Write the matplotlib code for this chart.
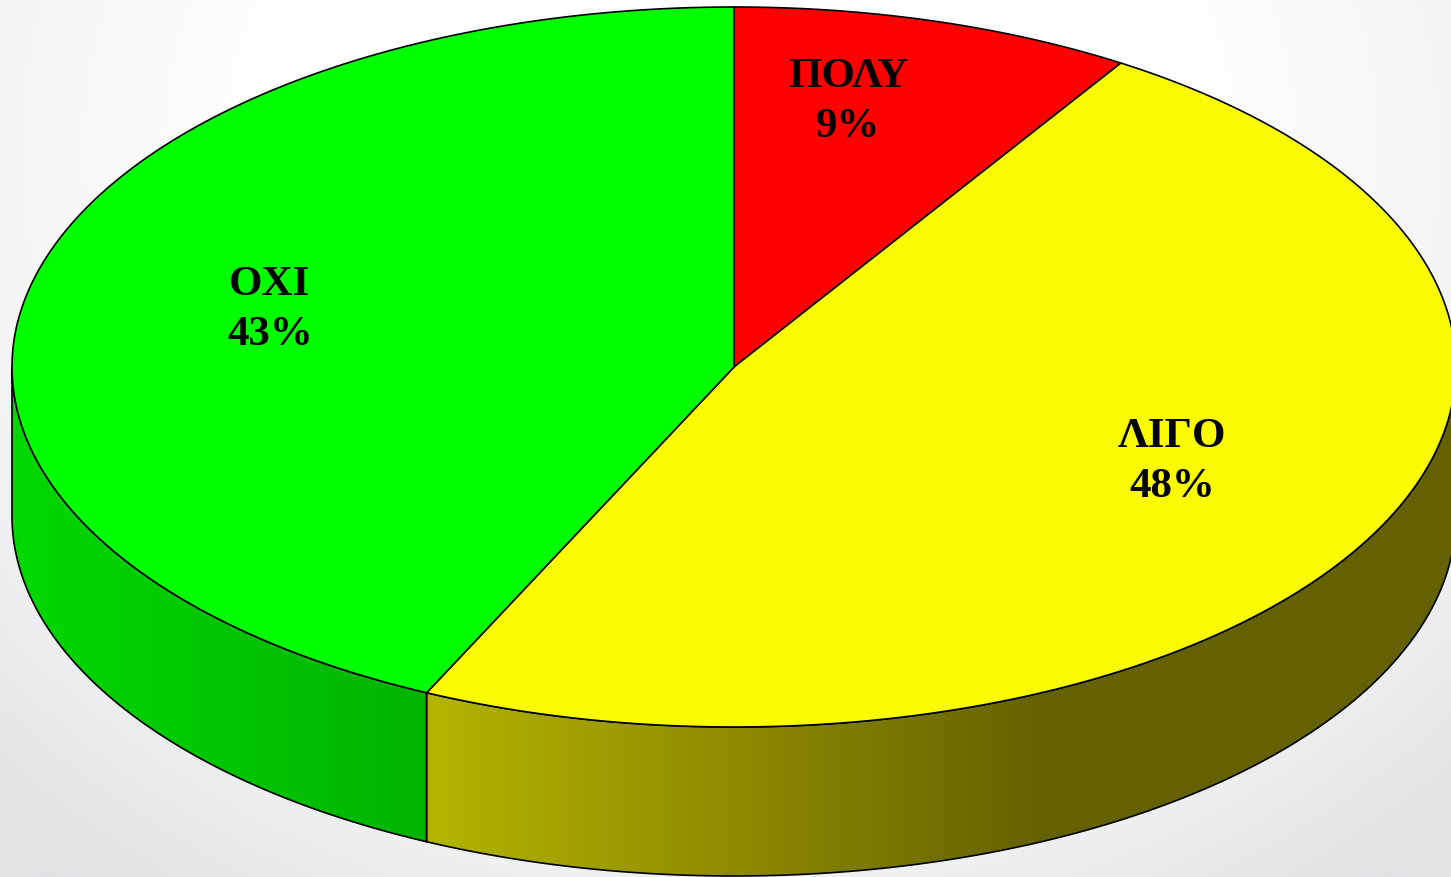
import numpy as np
import matplotlib
matplotlib.use("Agg")
import matplotlib.pyplot as plt
from matplotlib.patches import Polygon
from matplotlib.colors import LinearSegmentedColormap

# ---- data ----
labels = ["ΠΟΛΥ", "ΛΙΓΟ", "ΟΧΙ"]
values = [9, 48, 43]
top_colors = ["#ff0000", "#fafa00", "#00ff00"]
side_colors = [("#c80000", "#8c0000"), ("#b4b400", "#646100"), ("#00d800", "#00b400")]

W, H = 1451, 878
fig = plt.figure(figsize=(W / 100, H / 100), dpi=100)
ax = fig.add_axes([0, 0, 1, 1])
ax.set_xlim(0, W)
ax.set_ylim(H, 0)
ax.axis("off")

# background radial gradient
yy, xx = np.mgrid[0:H:2, 0:W:2]
r = np.sqrt(((xx - 730) / 1000.0) ** 2 + ((yy - 150) / 850.0) ** 2)
bg_cmap = LinearSegmentedColormap.from_list("bg", ["#ffffff", "#f8f8f8", "#f0f1f2", "#e2e3e5"])
ax.imshow(np.clip(r, 0, 1.05), cmap=bg_cmap, extent=(0, W, H, 0), vmin=0.45, vmax=1.05,
          aspect="auto", zorder=0, interpolation="bilinear")

cx, cy, a, b, depth = 734, 368, 722, 360, 149


def ell(t_deg, dy=0.0):
    t = np.radians(t_deg)
    return cx + a * np.cos(t), cy - b * np.sin(t) + dy


total = float(sum(values))
start = 90.0
angles = []
for v in values:
    sweep = 360.0 * v / total
    angles.append((start - sweep, start))
    start -= sweep

# side faces (front half: angles in [-180, 0])
for (t1, t2), (cl, cr) in zip(angles, side_colors):
    seg_lo = max(t1, -180.0)
    seg_hi = min(t2, 0.0)
    if seg_hi <= seg_lo:
        continue
    ts = np.linspace(seg_lo, seg_hi, 200)
    xt, yt = ell(ts)
    xb, yb = ell(ts[::-1], depth)
    pts = np.column_stack([np.concatenate([xt, xb]), np.concatenate([yt, yb])])
    poly = Polygon(pts, closed=True, facecolor="none", edgecolor="black", lw=1.2, zorder=3)
    ax.add_patch(poly)
    x0, x1 = pts[:, 0].min(), pts[:, 0].max()
    y0, y1 = pts[:, 1].min(), pts[:, 1].max()
    cm = LinearSegmentedColormap.from_list("s", [cl, cr])
    grad = np.linspace(0, 1, 256)[None, :]
    if cl == "#b4b400":
        xs = np.linspace(x0, x1, 256)
        grad = np.clip((xs - x0) / (1050 - x0), 0, 1)[None, :]
    im = ax.imshow(grad, cmap=cm, extent=(x0, x1, y1, y0), aspect="auto", zorder=2,
                   interpolation="bilinear", vmin=0, vmax=1)
    clip = Polygon(pts, closed=True, transform=ax.transData)
    im.set_clip_path(clip)

# top faces
for (t1, t2), col in zip(angles, top_colors):
    ts = np.linspace(t1, t2, 300)
    xs, ys = ell(ts)
    pts = np.column_stack([np.concatenate([[cx], xs]), np.concatenate([[cy], ys])])
    ax.add_patch(Polygon(pts, closed=True, facecolor=col, edgecolor="black", lw=1.2,
                         joinstyle="round", zorder=4))

# labels
label_pos = [(848, 102), (1172, 462), (270, 310)]
for lab, v, (lx, ly) in zip(labels, values, label_pos):
    ax.text(lx, ly, f"{lab}\n{v}%", ha="center", va="center", fontsize=31,
            family="Liberation Serif", fontweight="bold", color="black",
            linespacing=1.38, zorder=5)

fig.savefig("out.png", dpi=100)
